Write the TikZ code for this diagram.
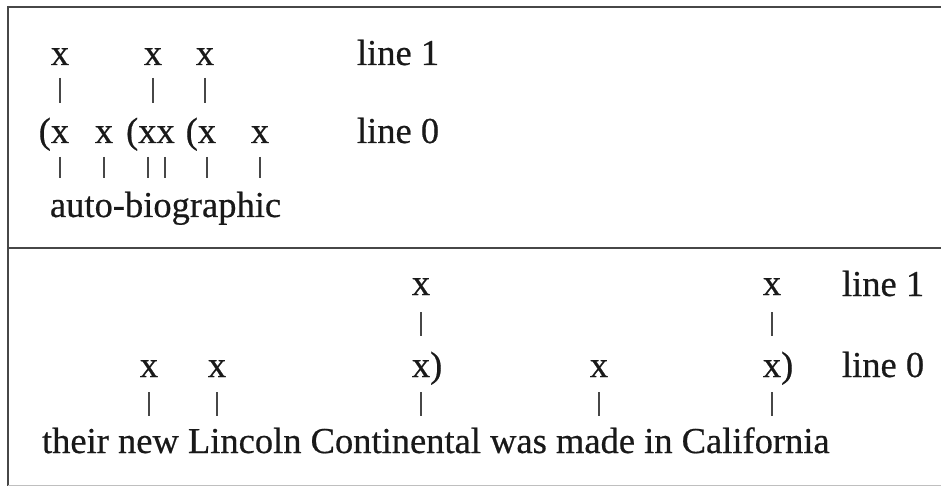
\documentclass[tikz,border=0pt]{standalone}
\usepackage{fontspec}
\setmainfont{Liberation Serif}[FakeBold=0.5]
\begin{document}
\begin{tikzpicture}[x=1pt,y=-1pt,
  every node/.style={inner sep=0pt,outer sep=0pt,font=\fontsize{36.5}{44}\selectfont,text=black!90},
  gridx/.style={anchor=base},
  word/.style={anchor=base west},
  lbl/.style={anchor=base west},
  bar/.style={line width=2.8pt,black!72},
  frame/.style={line width=2.4pt,black!72}]
\useasboundingbox (0,0) rectangle (941,486);
% frame
\draw[frame] (8,7) -- (941,7);
\draw[frame] (8,6) -- (8,486);
\draw[frame] (8,248) -- (941,248);
\draw[black!25,line width=1pt] (8,485.5) -- (941,485.5);
% ---------- top box ----------
\node[gridx] (a1) at (60,65) {x};
\node[gridx] (a2) at (153,65) {x};
\node[gridx] (a3) at (205,65) {x};
\node[lbl] (l1a) at (357,65) {line 1};
\node[gridx] (b1) at (60,143) {\llap{(}x};
\node[gridx] (b2) at (104,143) {x};
\node[gridx] (b3) at (156.5,143) {\llap{(}xx};
\node[gridx] (b4) at (207,143) {\llap{(}x};
\node[gridx] (b5) at (260,143) {x};
\node[lbl] (l0a) at (357,143) {line 0};
\node[word] (w1) at (50,217) {auto-biographic};
\draw[bar] (a1 |- 0,78) -- (a1 |- 0,103);
\draw[bar] (a2 |- 0,78) -- (a2 |- 0,103);
\draw[bar] (a3 |- 0,78) -- (a3 |- 0,103);
\draw[bar] (b1 |- 0,157) -- (b1 |- 0,178);
\draw[bar] (b2 |- 0,157) -- (b2 |- 0,178);
\draw[bar] ([xshift=-8.5pt]b3 |- 0,157) -- ([xshift=-8.5pt]b3 |- 0,178);
\draw[bar] ([xshift=8.5pt]b3 |- 0,157) -- ([xshift=8.5pt]b3 |- 0,178);
\draw[bar] (b4 |- 0,157) -- (b4 |- 0,178);
\draw[bar] (b5 |- 0,157) -- (b5 |- 0,178);
% ---------- bottom box ----------
\node[gridx] (c1) at (421,295) {x};
\node[gridx] (c2) at (772,295) {x};
\node[lbl] (l1b) at (842,296) {line 1};
\node[gridx] (d1) at (149,377) {x};
\node[gridx] (d2) at (217,377) {x};
\node[gridx] (d3) at (421,377) {x\rlap{)}};
\node[gridx] (d4) at (599,377) {x};
\node[gridx] (d5) at (772,377) {x\rlap{)}};
\node[lbl] (l0b) at (842,377) {line 0};
\node[word] (w2) at (42,453) {their new Lincoln Continental was made in California};
\draw[bar] (c1 |- 0,312) -- (c1 |- 0,336);
\draw[bar] (c2 |- 0,312) -- (c2 |- 0,336);
\draw[bar] (d1 |- 0,392) -- (d1 |- 0,416);
\draw[bar] (d2 |- 0,392) -- (d2 |- 0,416);
\draw[bar] (d3 |- 0,392) -- (d3 |- 0,416);
\draw[bar] (d4 |- 0,392) -- (d4 |- 0,416);
\draw[bar] (d5 |- 0,392) -- (d5 |- 0,416);
\end{tikzpicture}
\end{document}
